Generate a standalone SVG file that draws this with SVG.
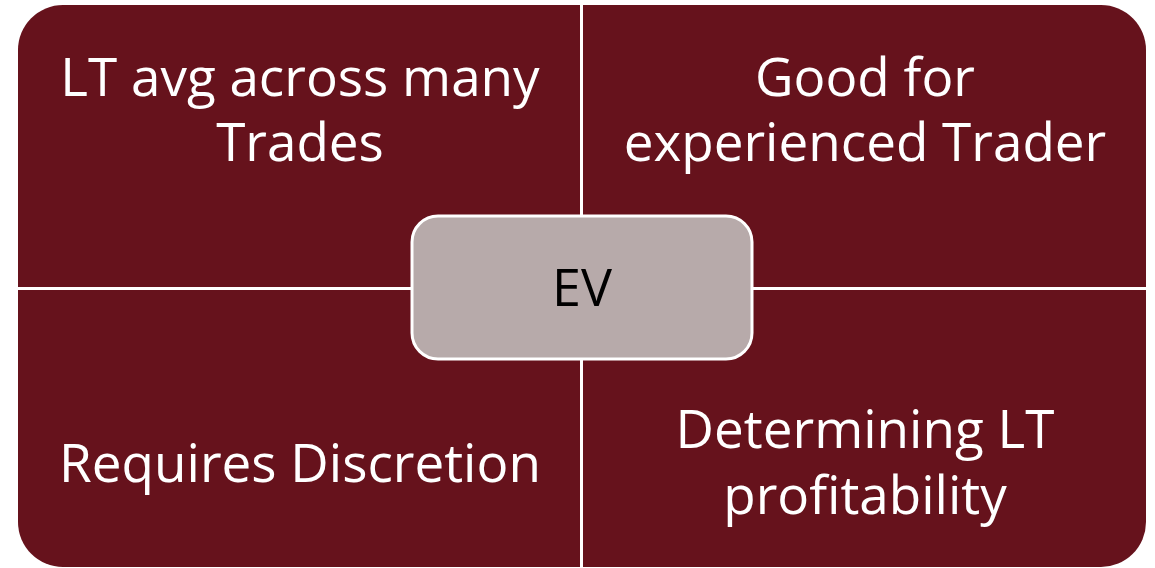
<svg xmlns="http://www.w3.org/2000/svg" width="1155" height="568" viewBox="0 0 1155 568">
<style>
.q{fill:#66121c}
.t{font-family:"Open Sans","Liberation Sans",sans-serif;font-size:53px;fill:#ffffff;text-anchor:middle}
.c{fill:#b7aaaa;stroke:#ffffff;stroke-width:3}
.ct{font-family:"Open Sans","Liberation Sans",sans-serif;font-size:52px;fill:#000000;text-anchor:middle}
</style>
<rect width="1155" height="568" fill="#ffffff"/>
<g id="q1">
<path class="q" d="M18,50 A45,45 0 0 1 63,5 L580,5 L580,287 L18,287 Z"/>
<text class="t" x="300" y="96">LT avg across many</text>
<text class="t" x="300" y="161">Trades</text>
</g>
<g id="q2">
<path class="q" d="M583,5 L1101,5 A45,45 0 0 1 1146,50 L1146,287 L583,287 Z"/>
<text class="t" x="865" y="96">Good for</text>
<text class="t" x="865" y="161">experienced Trader</text>
</g>
<g id="q3">
<path class="q" d="M18,290 L580,290 L580,567 L63,567 A45,45 0 0 1 18,522 Z"/>
<text class="t" x="300" y="482">Requires Discretion</text>
</g>
<g id="q4">
<path class="q" d="M583,290 L1146,290 L1146,522 A45,45 0 0 1 1101,567 L583,567 Z"/>
<text class="t" x="865" y="448">Determining LT</text>
<text class="t" x="865" y="514">profitability</text>
</g>
<g id="connectors"></g>
<g id="ev">
<rect class="c" x="412" y="216" width="340" height="143" rx="26"/>
<text class="ct" x="582" y="306">EV</text>
</g>
</svg>
